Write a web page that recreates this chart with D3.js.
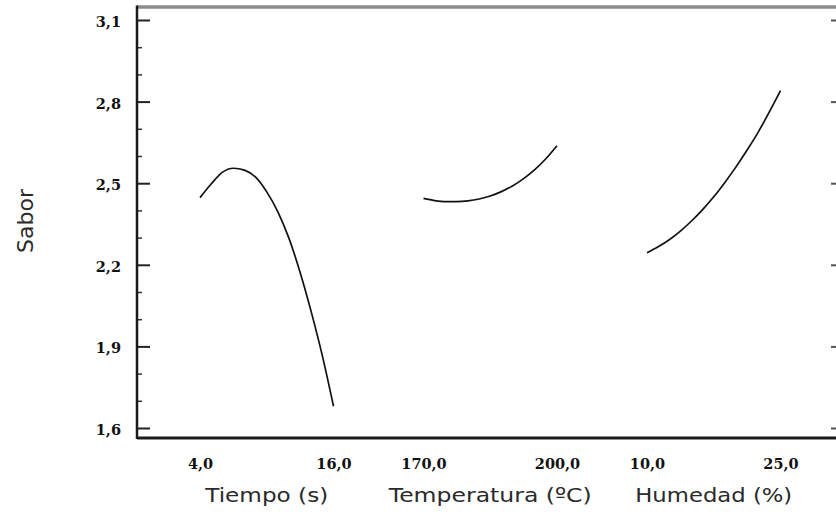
<!DOCTYPE html>
<html>
<head>
<meta charset="utf-8">
<script src="https://cdn.jsdelivr.net/npm/d3@7"></script>
<style>
  html, body { margin: 0; padding: 0; background: #fff; }
  svg { display: block; }
</style>
</head>
<body>
<svg id="chart" width="836" height="514"></svg>
<script>
// ---------- data ----------
const factors = ["Tiempo (s)", "Temperatura (ºC)", "Humedad (%)"];
const factorLow  = [4, 170, 10];
const factorHigh = [16, 200, 25];
const titleWidths = [123, 203, 157];

const tiempoX     = [4, 5, 6, 7, 8, 9, 10, 11, 12, 13, 14, 15, 16];
const tiempoSabor = [2.447, 2.497, 2.540, 2.555, 2.548, 2.522, 2.468, 2.395, 2.297, 2.172, 2.027, 1.865, 1.68];

const tempX       = [170, 172.5, 175, 177.5, 180, 182.5, 185, 187.5, 190, 192.5, 195, 197.5, 200];
const tempSabor   = [2.444, 2.436, 2.432, 2.432, 2.435, 2.442, 2.453, 2.469, 2.490, 2.517, 2.550, 2.590, 2.638];

const humX        = [10, 11.25, 12.5, 13.75, 15, 16.25, 17.5, 18.75, 20, 21.25, 22.5, 23.75, 25];
const humSabor    = [2.244, 2.266, 2.292, 2.324, 2.361, 2.403, 2.450, 2.503, 2.560, 2.622, 2.688, 2.762, 2.840];

const yTicks      = [1.6, 1.9, 2.2, 2.5, 2.8, 3.1];
const yMinorTicks = [1.7, 1.8, 2.0, 2.1, 2.3, 2.4, 2.6, 2.7, 2.9, 3.0];
const yLabel = "Sabor";

// ---------- layout ----------
const svg = d3.select("#chart");
const plotLeft = 137, plotRight = 838, plotTop = 7, plotBottom = 438;

const locale = d3.formatLocale({decimal: ",", thousands: ".", grouping: [3], currency: ["", ""]});
const fmt = locale.format(".1f");

const y = d3.scaleLinear().domain([1.6, 3.1]).range([428, 20]);

const band = d3.scaleBand().domain(factors).range([200, 780.5])
  .paddingInner(0.4027).paddingOuter(0);

const series = [
  {name: factors[0], xs: tiempoX, ys: tiempoSabor},
  {name: factors[1], xs: tempX,   ys: tempSabor},
  {name: factors[2], xs: humX,    ys: humSabor}
];

// top border
svg.append("line")
  .attr("x1", plotLeft).attr("x2", plotRight)
  .attr("y1", plotTop).attr("y2", plotTop)
  .attr("stroke", "#8c8c8c").attr("stroke-width", 3.5);

// left axis (major ticks inward with labels)
const gLeft = svg.append("g").attr("transform", `translate(${plotLeft},0)`)
  .call(d3.axisLeft(y).tickValues(yTicks).tickFormat(fmt).tickSize(-13).tickPadding(16));
gLeft.select(".domain").remove();
gLeft.selectAll(".tick line").attr("stroke", "#222").attr("stroke-width", 2);
gLeft.selectAll(".tick text")
  .attr("font-family", "DejaVu Serif").attr("font-weight", "bold")
  .attr("font-size", 14.5).attr("fill", "#111").attr("dy", "0.45em");

// left minor ticks
const gMinor = svg.append("g").attr("transform", `translate(${plotLeft},0)`)
  .call(d3.axisLeft(y).tickValues(yMinorTicks).tickFormat("").tickSize(-5));
gMinor.select(".domain").remove();
gMinor.selectAll(".tick line").attr("stroke", "#333").attr("stroke-width", 1.5);

// right axis ticks (only marks)
const gRight = svg.append("g").attr("transform", `translate(${plotRight},0)`)
  .call(d3.axisRight(y).tickValues(yTicks).tickFormat("").tickSize(-7));
gRight.select(".domain").remove();
gRight.selectAll(".tick line").attr("stroke", "#555").attr("stroke-width", 2);

// left axis line
svg.append("line")
  .attr("x1", plotLeft).attr("x2", plotLeft)
  .attr("y1", plotTop - 1.5).attr("y2", plotBottom + 1)
  .attr("stroke", "#1a1a1a").attr("stroke-width", 2.5);

// bottom axis line
svg.append("line")
  .attr("x1", plotLeft).attr("x2", plotRight)
  .attr("y1", plotBottom).attr("y2", plotBottom)
  .attr("stroke", "#1a1a1a").attr("stroke-width", 3);

const line = d3.line().curve(d3.curveMonotoneX);

series.forEach((s, i) => {
  const x = d3.scaleLinear().domain([factorLow[i], factorHigh[i]])
    .range([band(s.name), band(s.name) + band.bandwidth()]);

  // bottom tick labels
  const gb = svg.append("g").attr("transform", `translate(0,${plotBottom})`)
    .call(d3.axisBottom(x).tickValues([factorLow[i], factorHigh[i]]).tickFormat(fmt)
      .tickSize(0).tickPadding(21));
  gb.select(".domain").remove();
  gb.selectAll(".tick text")
    .attr("font-family", "DejaVu Serif").attr("font-weight", "bold")
    .attr("font-size", 14.5).attr("fill", "#111");

  // factor title
  svg.append("text")
    .attr("x", band(s.name) + band.bandwidth() / 2)
    .attr("y", 502)
    .attr("text-anchor", "middle")
    .attr("font-family", "DejaVu Sans")
    .attr("font-size", 20)
    .attr("textLength", titleWidths[i])
    .attr("lengthAdjust", "spacingAndGlyphs")
    .attr("fill", "#2a2a2a")
    .text(s.name);

  // effect curve
  svg.append("path")
    .attr("d", line(s.xs.map((v, k) => [x(v), y(s.ys[k])])))
    .attr("fill", "none")
    .attr("stroke", "#111")
    .attr("stroke-width", 1.7)
    .attr("stroke-linejoin", "round");
});

// y-axis title
svg.append("text")
  .attr("transform", "translate(33,221) rotate(-90)")
  .attr("text-anchor", "middle")
  .attr("font-family", "DejaVu Sans")
  .attr("font-size", 22)
  .attr("fill", "#2a2a2a")
  .text(yLabel);
</script>
</body>
</html>
